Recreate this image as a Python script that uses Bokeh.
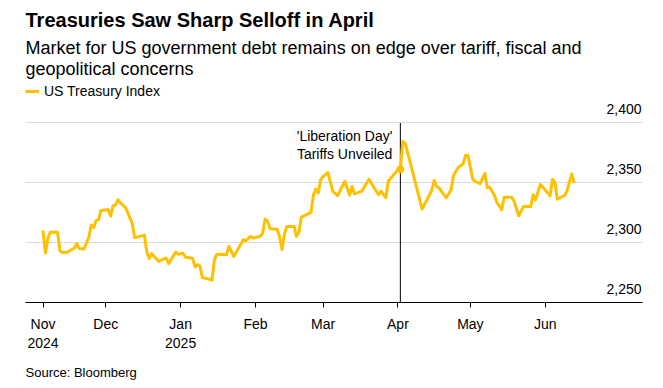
import pandas as pd
from bokeh.plotting import figure
from bokeh.models import (Range1d, FixedTicker, Grid, Title, Legend, LegendItem,
                          ColumnDataSource)
from bokeh.core.properties import value
from bokeh.embed import file_html
from bokeh.resources import INLINE

# ---------------- data ----------------
dates = [
    "2024-11-05", "2024-11-06", "2024-11-07", "2024-11-08", "2024-11-11", "2024-11-12",
    "2024-11-13", "2024-11-15", "2024-11-18", "2024-11-19", "2024-11-20", "2024-11-22",
    "2024-11-24", "2024-11-25", "2024-11-26", "2024-11-27", "2024-11-28", "2024-11-29",
    "2024-12-02", "2024-12-03", "2024-12-04", "2024-12-05", "2024-12-06", "2024-12-07",
    "2024-12-09", "2024-12-10", "2024-12-12", "2024-12-13", "2024-12-17", "2024-12-18",
    "2024-12-19", "2024-12-20", "2024-12-23", "2024-12-24", "2024-12-26", "2024-12-27",
    "2024-12-30", "2024-12-31", "2025-01-02", "2025-01-03", "2025-01-06", "2025-01-07",
    "2025-01-08", "2025-01-09", "2025-01-10", "2025-01-13", "2025-01-14", "2025-01-15",
    "2025-01-16", "2025-01-17", "2025-01-20", "2025-01-21", "2025-01-23", "2025-01-27",
    "2025-01-28", "2025-01-30", "2025-01-31", "2025-02-03", "2025-02-04", "2025-02-05",
    "2025-02-06", "2025-02-07", "2025-02-10", "2025-02-11", "2025-02-12", "2025-02-13",
    "2025-02-14", "2025-02-17", "2025-02-18", "2025-02-19", "2025-02-20", "2025-02-24",
    "2025-02-25", "2025-02-26", "2025-02-27", "2025-02-28", "2025-03-01", "2025-03-03",
    "2025-03-05", "2025-03-07", "2025-03-10", "2025-03-12", "2025-03-13", "2025-03-14",
    "2025-03-17", "2025-03-20", "2025-03-22", "2025-03-24", "2025-03-25", "2025-03-27",
    "2025-03-28", "2025-03-30", "2025-04-01", "2025-04-02", "2025-04-03", "2025-04-04",
    "2025-04-07", "2025-04-09", "2025-04-11", "2025-04-15", "2025-04-16", "2025-04-17",
    "2025-04-18", "2025-04-21", "2025-04-22", "2025-04-23", "2025-04-24", "2025-04-26",
    "2025-04-28", "2025-04-29", "2025-04-30", "2025-05-02", "2025-05-03", "2025-05-05",
    "2025-05-07", "2025-05-08", "2025-05-09", "2025-05-11", "2025-05-12", "2025-05-14",
    "2025-05-15", "2025-05-18", "2025-05-19", "2025-05-21", "2025-05-23", "2025-05-26",
    "2025-05-27", "2025-05-28", "2025-05-30", "2025-06-01", "2025-06-03", "2025-06-04",
    "2025-06-05", "2025-06-06", "2025-06-09", "2025-06-10", "2025-06-12", "2025-06-13",
]
index_values = [
    2310.3, 2291.3, 2303.3, 2308.6, 2308.6, 2293.6,
    2291.7, 2292.0, 2295.5, 2299.2, 2295.2, 2294.7,
    2304.7, 2314.7, 2312.5, 2318.6, 2319.1, 2326.9,
    2327.8, 2322.2, 2330.8, 2331.3, 2335.8, 2333.6,
    2329.7, 2325.5, 2315.8, 2304.2, 2306.3, 2292.2,
    2286.7, 2290.8, 2284.2, 2285.5, 2287.2, 2282.5,
    2292.2, 2290.3, 2291.1, 2288.0, 2286.7, 2279.7,
    2281.7, 2280.5, 2270.8, 2269.5, 2268.6, 2285.8,
    2290.3, 2290.3, 2290.0, 2297.0, 2288.5, 2302.5,
    2301.5, 2305.3, 2303.8, 2305.3, 2308.0, 2319.7,
    2318.0, 2311.7, 2311.3, 2304.7, 2294.4, 2307.5,
    2313.6, 2313.6, 2305.3, 2308.8, 2321.3, 2325.3,
    2339.7, 2344.7, 2341.5, 2352.7, 2355.2, 2358.6,
    2343.0, 2339.2, 2351.3, 2339.7, 2347.0, 2340.8,
    2343.0, 2353.0, 2346.3, 2340.0, 2343.0, 2337.5,
    2351.3, 2356.1, 2361.0, 2361.3, 2384.7, 2383.0,
    2360.0, 2344.0, 2328.0, 2343.6, 2352.0, 2347.0,
    2345.8, 2337.5, 2340.8, 2344.2, 2356.0, 2363.0,
    2365.8, 2373.0, 2373.0, 2353.0, 2351.3, 2349.2,
    2358.0, 2345.8, 2346.3, 2339.4, 2333.5, 2327.5,
    2338.0, 2338.0, 2335.2, 2322.5, 2330.3, 2330.3,
    2340.0, 2335.8, 2348.6, 2344.2, 2339.2, 2353.0,
    2350.5, 2336.3, 2339.4, 2343.0, 2357.5, 2349.7,
]
x_tick_dates = ["2024-11-05", "2024-12-01", "2025-01-01", "2025-02-01",
                "2025-03-01", "2025-04-01", "2025-05-01", "2025-06-01"]
x_tick_labels = ["Nov\n2024", "Dec", "Jan\n2025", "Feb", "Mar", "Apr", "May", "Jun"]
y_ticks = [2250, 2300, 2350, 2400]
y_tick_labels = ["2,250", "2,300", "2,350", "2,400"]
series_name = "US Treasury Index"
event_date = "2025-04-02"
event_label = "'Liberation Day'\nTariffs Unveiled"

title_text = "Treasuries Saw Sharp Selloff in April"
subtitle_text = ("Market for US government debt remains on edge over tariff, fiscal and\n"
                 "geopolitical concerns")
source_text = "Source: Bloomberg"

# ---------------- style ----------------
FONT = "Liberation Sans"
GOLD = "#FFC000"
INK = "#000000"


def to_ms(d):
    return float((pd.Timestamp(d) - pd.Timestamp("1970-01-01")) // pd.Timedelta(milliseconds=1))


x_start = to_ms("2024-10-28 18:00")
x_end = to_ms("2025-07-11 07:00")

src = ColumnDataSource(dict(date=[to_ms(d) for d in dates], value=index_values))

p = figure(width=663, height=388, x_axis_type="datetime", y_axis_location=None,
           x_range=Range1d(x_start, x_end), y_range=Range1d(2250, 2433),
           output_backend="svg", toolbar_location=None,
           min_border_left=25, min_border_right=21, min_border_top=83, min_border_bottom=86)
p.outline_line_color = None
p.background_fill_color = "white"
p.border_fill_color = "white"
p.xgrid.visible = False

grid = Grid(dimension=1, ticker=FixedTicker(ticks=y_ticks), grid_line_color="#dcdcdc",
            grid_line_width=1)
p.add_layout(grid)

# x axis
tick_ms = [to_ms(d) for d in x_tick_dates]
xa = p.xaxis[0]
xa.ticker = FixedTicker(ticks=tick_ms)
xa.major_label_overrides = {t: lab for t, lab in zip(tick_ms, x_tick_labels)}
xa.axis_line_color = INK
xa.axis_line_width = 1
xa.major_tick_line_color = INK
xa.major_tick_in = 0
xa.major_tick_out = 5
xa.minor_tick_line_color = None
xa.major_label_text_font = FONT
xa.major_label_text_font_size = "14px"
xa.major_label_text_color = INK
xa.major_label_standoff = 8

# source line below the axis
p.add_layout(Title(text=source_text, align="left", text_font=FONT,
                   text_font_size="13px", text_font_style="normal", text_color=INK,
                   standoff=18), "below")

# event line
ev = to_ms(event_date)
ev_val = index_values[dates.index(event_date)]
p.segment(x0=[ev], y0=[y_ticks[0]], x1=[ev], y1=[y_ticks[-1]], line_color=INK, line_width=1)

# main line
line_r = p.line("date", "value", source=src, line_color=GOLD, line_width=3,
                line_join="round")
p.scatter(x=[ev], y=[ev_val], size=7, fill_color=GOLD, line_color=GOLD)

# annotation text
p.text(x=[ev], y=[y_ticks[-1]], text=[event_label], text_align="right",
       text_baseline="top", x_offset=-8, y_offset=5, text_font=value(FONT),
       text_font_size="14px", text_color=INK, text_line_height=1.1)

# y labels inside the plot, right-aligned above gridlines
p.text(x=[x_end] * len(y_ticks), y=y_ticks, text=y_tick_labels, text_align="right",
       text_baseline="alphabetic", x_offset=-1, y_offset=-14, text_font=value(FONT),
       text_font_size="14px", text_color=INK)

# legend at the top-left of the frame
legend = Legend(items=[LegendItem(label=series_name, renderers=[line_r])],
                location="top_left", orientation="horizontal", margin=0, padding=0,
                spacing=0, glyph_width=14, glyph_height=14, label_standoff=5,
                label_height=16, label_text_font=FONT, label_text_font_size="14px",
                label_text_color=INK, border_line_alpha=0, background_fill_alpha=0)
p.add_layout(legend)

p.add_layout(Title(text=subtitle_text, align="left", text_font=FONT,
                   text_font_size="18px", text_font_style="normal", text_color=INK,
                   text_line_height=1.06, standoff=9), "above")
p.add_layout(Title(text=title_text, align="left", text_font=FONT, text_font_size="20px",
                   text_font_style="bold", text_color=INK, standoff=2), "above")

open("out.html", "w").write(file_html(p, INLINE))
